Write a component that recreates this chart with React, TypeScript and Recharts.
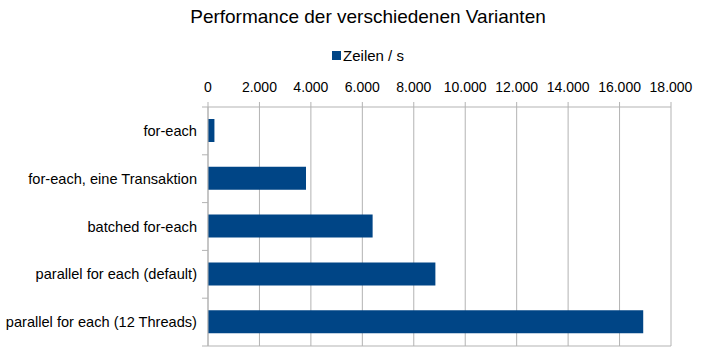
import { BarChart, Bar, XAxis, YAxis, CartesianGrid, Legend } from 'recharts';

const variants = [
    'for-each',
    'for-each, eine Transaktion',
    'batched for-each',
    'parallel for each (default)',
    'parallel for each (12 Threads)',
];
const rowsPerSecond = [250, 3810, 6400, 8840, 16920];
const xTicks = [0, 2000, 4000, 6000, 8000, 10000, 12000, 14000, 16000, 18000];
const seriesName = 'Zeilen / s';
const title = 'Performance der verschiedenen Varianten';

const BLUE = '#004586';
const GRID = '#b3b3b3';
const FONT = '"Liberation Sans", Arial, sans-serif';

// german thousands separator
const fmt = (n: number) => n.toString().replace(/\B(?=(\d{3})+(?!\d))/g, '.');

const data = variants.map((name, i) => ({ name, value: rowsPerSecond[i] }));

const BAND_HALF = 23.9;

const CategoryTick = ({ x, y, payload, index }: any) => {
    const axisX = x + 11;
    return (
        <g>
            <text x={x} y={y} dy={5} textAnchor="end" fontSize={14.6} fill="#000" fontFamily={FONT}>
                {payload.value}
            </text>
            <line x1={axisX - 6} x2={axisX} y1={y - BAND_HALF} y2={y - BAND_HALF} stroke={GRID} />
            {index === variants.length - 1 && (
                <line x1={axisX - 6} x2={axisX} y1={y + BAND_HALF} y2={y + BAND_HALF} stroke={GRID} />
            )}
        </g>
    );
};

const LegendContent = () => (
    <div style={{ display: 'flex', justifyContent: 'center', alignItems: 'center', fontFamily: FONT, fontSize: 15, color: '#000' }}>
        <span style={{ display: 'inline-block', width: 9, height: 9, background: BLUE, marginRight: 2 }} />
        <span>{seriesName}</span>
    </div>
);

export default function App() {
    return (
        <div style={{ position: 'absolute', left: 0, top: 0, width: 701, height: 351, background: '#fff', fontFamily: FONT }}>
            <div style={{ position: 'absolute', top: 6, left: 0, width: 736, textAlign: 'center', fontSize: 19, color: '#000' }}>
                {title}
            </div>
            <BarChart
                width={701}
                height={351}
                data={data}
                layout="vertical"
                margin={{ top: 77, right: 30, bottom: 0, left: 8 }}
            >
                <CartesianGrid horizontal={false} stroke={GRID} />
                <XAxis
                    type="number"
                    orientation="top"
                    domain={[0, 18000]}
                    ticks={xTicks}
                    tickFormatter={fmt}
                    height={30}
                    tickSize={5}
                    tickMargin={10}
                    interval={0}
                    stroke={GRID}
                    tick={{ fill: '#000', fontSize: 14, fontFamily: FONT }}
                />
                <XAxis
                    xAxisId="bottom"
                    type="number"
                    orientation="bottom"
                    domain={[0, 18000]}
                    ticks={xTicks}
                    tickFormatter={() => ''}
                    height={5}
                    tickSize={4}
                    interval={0}
                    stroke={GRID}
                />
                <YAxis
                    type="category"
                    dataKey="name"
                    width={200}
                    tickSize={0}
                    tickMargin={11}
                    tickLine={false}
                    interval={0}
                    stroke={GRID}
                    tick={<CategoryTick />}
                />
                <Legend
                    layout="horizontal"
                    verticalAlign="middle"
                    align="center"
                    content={<LegendContent />}
                    wrapperStyle={{ top: 47, left: 0, width: 736 }}
                />
                <Bar dataKey="value" name={seriesName} fill={BLUE} barSize={23} isAnimationActive={false} />
            </BarChart>
        </div>
    );
}
